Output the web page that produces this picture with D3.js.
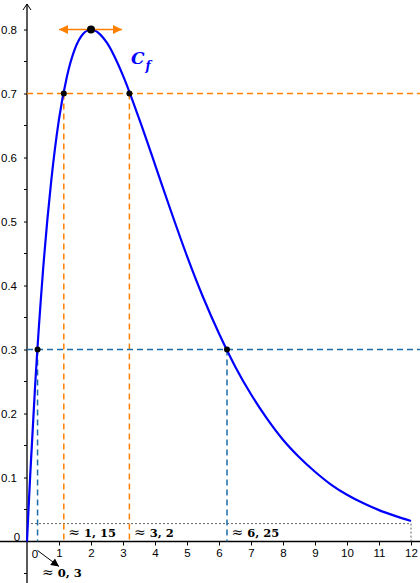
<script src="https://d3js.org/d3.v7.min.js"></script>

<style>
  body { margin: 0; background: #fff; }
  svg { display: block; }
</style>

<body>
  <div id="chart"></div>
</body>

<script>
// size of the picture
var width = 420, height = 583

// values
var curveX = [0, 0.05, 0.1, 0.25, 0.5, 0.75, 1, 1.25, 1.5, 1.75, 2, 2.25, 2.5, 3, 3.5, 4, 4.5, 5, 5.5, 6, 6.5, 7, 7.5, 8, 8.5, 9, 9.5, 10, 10.5, 11, 11.5, 12]
var curveY = [0, 0.053, 0.103, 0.240, 0.423, 0.560, 0.660, 0.727, 0.770, 0.793, 0.800, 0.794, 0.779, 0.728, 0.661, 0.589, 0.516, 0.446, 0.382, 0.325, 0.274, 0.230, 0.192, 0.159, 0.132, 0.109, 0.089, 0.073, 0.060, 0.049, 0.040, 0.032]

// marked points
var maxPoint = [2, 0.8]
var orangeX = [1.15, 3.2], orangeLevel = 0.7
var blueX = [0.33, 6.25], blueLevel = 0.3
var endLevel = 0.028, endX = 12

// tick labels
var xTicks = [1, 2, 3, 4, 5, 6, 7, 8, 9, 10, 11, 12]
var yTicks = [0.1, 0.2, 0.3, 0.4, 0.5, 0.6, 0.7, 0.8]
var yMinor = [-0.05, 0.05, 0.15, 0.25, 0.35, 0.45, 0.55, 0.65, 0.75]

var labels = [
  {x: 1.15, text: "1, 15"},
  {x: 3.2, text: "3, 2"},
  {x: 6.25, text: "6, 25"}
]

var orange = "#ff8000", teal = "#1b6ca8", blue = "#0000ff"
var sans = "Liberation Sans, Arial, sans-serif"

var svg = d3.select("#chart")
  .append("svg")
  .attr("width", width)
  .attr("height", height)

var x = d3.scaleLinear().domain([0, 12]).range([27, 411])
var y = d3.scaleLinear().domain([0, 0.8]).range([541.5, 29.5])

// markers
var defs = svg.append("defs")
defs.append("marker")
  .attr("id", "tri-orange")
  .attr("viewBox", "0 0 10 10")
  .attr("refX", 10).attr("refY", 5)
  .attr("markerWidth", 14).attr("markerHeight", 9)
  .attr("markerUnits", "userSpaceOnUse")
  .attr("orient", "auto")
  .append("path").attr("d", "M0,0 L10,5 L0,10 Z").attr("fill", orange)

defs.append("marker")
  .attr("id", "tri-black")
  .attr("viewBox", "0 0 10 10")
  .attr("refX", 10).attr("refY", 5)
  .attr("markerWidth", 11).attr("markerHeight", 8)
  .attr("markerUnits", "userSpaceOnUse")
  .attr("orient", "auto")
  .append("path").attr("d", "M0,0 L10,5 L0,10 Z").attr("fill", "#000")

// x axis
var xAxis = svg.append("g")
  .attr("transform", "translate(0," + y(0) + ")")
  .call(d3.axisBottom(x).tickValues(xTicks).tickSize(4).tickSizeOuter(0).tickPadding(3))
xAxis.select(".domain").remove()
xAxis.append("line")
  .attr("x1", 0).attr("x2", width)
  .attr("stroke", "#000").attr("stroke-width", 1.3)
xAxis.selectAll("text")
  .attr("font-family", sans)
  .attr("font-size", 11.5)
  .attr("fill", "#000")

// y axis
var yAxis = svg.append("g")
  .attr("transform", "translate(" + x(0) + ",0)")
  .call(d3.axisLeft(y).tickValues(yTicks).tickSize(3).tickPadding(7).tickFormat(d3.format(".1f")))
yAxis.select(".domain").remove()
yAxis.append("line")
  .attr("y1", height).attr("y2", 4)
  .attr("stroke", "#000").attr("stroke-width", 1.3)
yAxis.append("path")
  .attr("d", "M-4,10 L0,4 L4,10")
  .attr("fill", "none").attr("stroke", "#000").attr("stroke-width", 1)
yAxis.selectAll(".minor")
  .data(yMinor)
  .enter()
  .append("line")
  .attr("class", "minor")
  .attr("x1", -3).attr("x2", 0)
  .attr("y1", function(d) { return y(d) }).attr("y2", function(d) { return y(d) })
  .attr("stroke", "#000")
yAxis.selectAll("text")
  .attr("font-family", sans)
  .attr("font-size", 11.5)
  .attr("fill", "#000")

// the two zeros
svg.append("text")
  .attr("x", 17).attr("y", y(0) - 1)
  .attr("text-anchor", "middle")
  .attr("font-family", sans).attr("font-size", 11.5)
  .text("0")
svg.append("text")
  .attr("x", 35).attr("y", y(0) + 16)
  .attr("text-anchor", "middle")
  .attr("font-family", sans).attr("font-size", 11.5)
  .text("0")

// dashed guides
function hLine(level, color, dash) {
  svg.append("line")
    .attr("x1", x(0)).attr("x2", width)
    .attr("y1", y(level)).attr("y2", y(level))
    .attr("stroke", color).attr("stroke-width", 1.5)
    .attr("stroke-dasharray", dash)
}
function vLine(xv, level, color, dash) {
  svg.append("line")
    .attr("x1", x(xv)).attr("x2", x(xv))
    .attr("y1", y(level)).attr("y2", y(0))
    .attr("stroke", color).attr("stroke-width", 1.5)
    .attr("stroke-dasharray", dash)
}

svg.append("line")
  .attr("x1", x(0)).attr("x2", x(endX))
  .attr("y1", y(endLevel)).attr("y2", y(endLevel))
  .attr("stroke", "#555").attr("stroke-width", 0.9)
  .attr("stroke-dasharray", "2,2")
svg.append("line")
  .attr("x1", x(endX)).attr("x2", x(endX))
  .attr("y1", y(endLevel)).attr("y2", y(0))
  .attr("stroke", "#555").attr("stroke-width", 0.9)
  .attr("stroke-dasharray", "2,2")

hLine(orangeLevel, orange, "6,4")
orangeX.forEach(function(d) { vLine(d, orangeLevel, orange, "6,4") })
hLine(blueLevel, teal, "6,4")
blueX.forEach(function(d) { vLine(d, blueLevel, teal, "6,4") })

// the curve
var pts = curveX.map(function(d, i) { return [d, curveY[i]] })
var line = d3.line()
  .x(function(d) { return x(d[0]) })
  .y(function(d) { return y(d[1]) })
  .curve(d3.curveMonotoneX)

svg.append("path")
  .datum(pts)
  .attr("d", line)
  .attr("fill", "none")
  .attr("stroke", blue)
  .attr("stroke-width", 2.2)

// horizontal tangent at the top
svg.append("line")
  .attr("x1", x(maxPoint[0])).attr("x2", x(maxPoint[0]) - 32)
  .attr("y1", y(maxPoint[1])).attr("y2", y(maxPoint[1]))
  .attr("stroke", orange).attr("stroke-width", 1.5)
  .attr("marker-end", "url(#tri-orange)")
svg.append("line")
  .attr("x1", x(maxPoint[0])).attr("x2", x(maxPoint[0]) + 31)
  .attr("y1", y(maxPoint[1])).attr("y2", y(maxPoint[1]))
  .attr("stroke", orange).attr("stroke-width", 1.5)
  .attr("marker-end", "url(#tri-orange)")

// points
svg.append("circle")
  .attr("cx", x(maxPoint[0])).attr("cy", y(maxPoint[1]))
  .attr("r", 4).attr("fill", "#000")
orangeX.forEach(function(d) {
  svg.append("circle").attr("cx", x(d)).attr("cy", y(orangeLevel)).attr("r", 3).attr("fill", "#000")
})
blueX.forEach(function(d) {
  svg.append("circle").attr("cx", x(d)).attr("cy", y(blueLevel)).attr("r", 3).attr("fill", "#000")
})

// curve name
var curveName = svg.append("text")
  .attr("x", 131).attr("y", 64)
  .attr("fill", blue)
  .attr("font-family", "DejaVu Serif, serif")
  .attr("font-style", "italic")
  .attr("font-weight", "bold")
  .attr("font-size", 17)
curveName.append("tspan").text("C")
curveName.append("tspan").attr("font-size", 12).attr("dy", 6).attr("dx", 1).text("f")

// approximations
function approx(sel, txt) {
  var t = sel
    .attr("font-family", "DejaVu Serif, serif")
    .attr("font-weight", "bold")
    .attr("font-size", 11.5)
  t.append("tspan").attr("font-size", 14).attr("font-weight", "normal").text("\u2248")
  t.append("tspan").attr("dx", 4).text(txt)
  return t
}
labels.forEach(function(d) {
  approx(svg.append("text").attr("x", x(d.x) + 4.5).attr("y", y(0) - 4.5), d.text)
})

svg.append("line")
  .attr("x1", x(blueX[0])).attr("y1", y(0) + 9)
  .attr("x2", 59).attr("y2", y(0) + 25)
  .attr("stroke", "#000").attr("stroke-width", 1)
  .attr("marker-end", "url(#tri-black)")
approx(svg.append("text").attr("x", 42).attr("y", 577), "0, 3")
</script>
